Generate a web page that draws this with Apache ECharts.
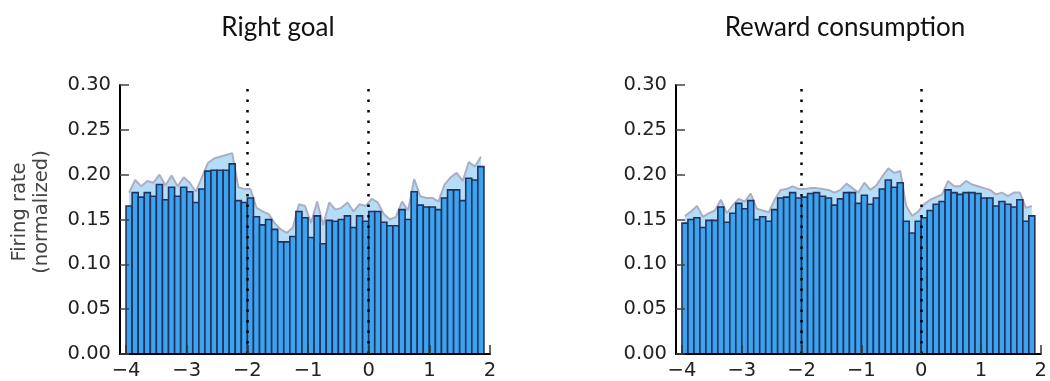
<!DOCTYPE html>
<html>
<head>
<meta charset="utf-8">
<script src="https://cdn.jsdelivr.net/npm/echarts@6/dist/echarts.min.js"></script>
<style>
html,body{margin:0;padding:0;background:#fff;}
#chart{width:1050px;height:381px;}
</style>
</head>
<body>
<div id="chart"></div>
<script>
// ---- data ----
const titles = ['Right goal', 'Reward consumption'];
const yAxisLabel = 'Firing rate\n(normalized)';
const binCenters = [
  -3.95,-3.85,-3.75,-3.65,-3.55,-3.45,-3.35,-3.25,-3.15,-3.05,
  -2.95,-2.85,-2.75,-2.65,-2.55,-2.45,-2.35,-2.25,-2.15,-2.05,
  -1.95,-1.85,-1.75,-1.65,-1.55,-1.45,-1.35,-1.25,-1.15,-1.05,
  -0.95,-0.85,-0.75,-0.65,-0.55,-0.45,-0.35,-0.25,-0.15,-0.05,
  0.05,0.15,0.25,0.35,0.45,0.55,0.65,0.75,0.85,0.95,
  1.05,1.15,1.25,1.35,1.45,1.55,1.65,1.75,1.85
];
const rightGoalRate = [
  0.165,0.180,0.175,0.180,0.176,0.189,0.172,0.186,0.176,0.186,
  0.181,0.169,0.184,0.204,0.205,0.205,0.205,0.212,0.171,0.169,
  0.174,0.153,0.144,0.150,0.139,0.125,0.125,0.131,0.159,0.152,
  0.130,0.154,0.123,0.149,0.148,0.150,0.154,0.141,0.154,0.148,
  0.159,0.159,0.147,0.143,0.143,0.161,0.150,0.181,0.166,0.164,
  0.164,0.161,0.174,0.183,0.183,0.171,0.196,0.194,0.209
];
const rightGoalUpper = [
  0.180,0.194,0.187,0.193,0.191,0.200,0.188,0.199,0.187,0.197,
  0.191,0.181,0.197,0.213,0.218,0.220,0.222,0.224,0.186,0.184,
  0.184,0.163,0.159,0.156,0.146,0.139,0.135,0.141,0.167,0.165,
  0.146,0.170,0.144,0.169,0.161,0.163,0.169,0.159,0.167,0.165,
  0.173,0.169,0.156,0.150,0.153,0.170,0.160,0.195,0.176,0.174,
  0.174,0.170,0.189,0.197,0.202,0.193,0.214,0.209,0.220
];
const rewardRate = [
  0.146,0.150,0.152,0.141,0.149,0.149,0.164,0.147,0.157,0.168,
  0.162,0.171,0.150,0.153,0.148,0.161,0.174,0.175,0.180,0.174,
  0.175,0.179,0.180,0.176,0.174,0.166,0.173,0.180,0.180,0.168,
  0.177,0.167,0.174,0.184,0.194,0.186,0.191,0.148,0.135,0.148,
  0.152,0.160,0.167,0.170,0.183,0.180,0.178,0.180,0.180,0.179,
  0.174,0.174,0.165,0.170,0.167,0.164,0.172,0.148,0.154
];
const rewardUpper = [
  0.154,0.159,0.165,0.153,0.157,0.160,0.172,0.157,0.166,0.173,
  0.170,0.179,0.162,0.160,0.158,0.172,0.183,0.184,0.187,0.184,
  0.184,0.185,0.185,0.184,0.183,0.180,0.183,0.190,0.185,0.180,
  0.191,0.183,0.188,0.198,0.207,0.202,0.204,0.165,0.154,0.159,
  0.167,0.172,0.175,0.178,0.193,0.187,0.187,0.193,0.189,0.187,
  0.185,0.183,0.178,0.180,0.176,0.180,0.180,0.163,0.165
];
const xTickValues = [-4,-3,-2,-1,0,1,2];
const xTickLabels = ['\u22124','\u22123','\u22122','\u22121','0','1','2'];
const yTickValues = [0,0.05,0.10,0.15,0.20,0.25,0.30];
const yTickLabels = ['0.00','0.05','0.10','0.15','0.20','0.25','0.30'];
const eventLines = [-2, 0];

// ---- style / layout ----
const BIN_HALF = 0.05;
const BAR_FILL = '#3ca3ee';
const BAR_EDGE = '#22325c';
const BAND_FILL = '#b6ddf7';
const BAND_EDGE = '#abafc3';
const TICK_FONT = '"DejaVu Sans", sans-serif';
const grids = [
  {left: 120, top: 85, width: 370, height: 270},
  {left: 676, top: 85, width: 368, height: 270}
];
const titlePos = [[278, 28], [845, 28]];
const yLabelPos = [31, 212];
const panels = [
  {rate: rightGoalRate, upper: rightGoalUpper},
  {rate: rewardRate, upper: rewardUpper}
];

const chart = echarts.init(document.getElementById('chart'), null, {renderer: 'canvas'});

function renderBar(params, api) {
  const c = api.value(0), v = api.value(1);
  const p0 = api.coord([c - BIN_HALF, v]);
  const p1 = api.coord([c + BIN_HALF, 0]);
  return {
    type: 'rect',
    shape: {x: p0[0], y: p0[1], width: p1[0] - p0[0], height: p1[1] - p0[1]},
    style: {fill: BAR_FILL, stroke: BAR_EDGE, lineWidth: 1.6}
  };
}

const xAxes = [], yAxes = [], series = [];
panels.forEach((p, i) => {
  xAxes.push({
    type: 'value', gridIndex: i, min: -4.1, max: 2, z: 10,
    axisLine: {show: true, onZero: false, lineStyle: {color: '#000', width: 2}},
    axisTick: {show: true, inside: true, length: 9, customValues: xTickValues,
      lineStyle: {color: '#333', width: 1.5}},
    axisLabel: {show: true, customValues: xTickValues, margin: 7,
      formatter: (v) => xTickLabels[xTickValues.indexOf(Math.round(v))],
      fontFamily: TICK_FONT, fontSize: 19.5, color: '#222'},
    splitLine: {show: false}
  });
  yAxes.push({
    type: 'value', gridIndex: i, min: 0, max: 0.3, z: 10,
    axisLine: {show: true, onZero: false, lineStyle: {color: '#000', width: 2}},
    axisTick: {show: true, inside: true, length: 9, customValues: yTickValues,
      lineStyle: {color: '#444', width: 1.5}},
    axisLabel: {show: true, customValues: yTickValues, margin: 9,
      formatter: (v) => yTickLabels[yTickValues.indexOf(Math.round(v * 100) / 100)],
      fontFamily: TICK_FONT, fontSize: 19.5, color: '#222'},
    splitLine: {show: false}
  });
  series.push({
    type: 'line', xAxisIndex: i, yAxisIndex: i, z: 1,
    data: binCenters.map((c, k) => [c, p.upper[k]]),
    symbol: 'none', silent: true,
    lineStyle: {color: BAND_EDGE, width: 2},
    areaStyle: {color: BAND_FILL, opacity: 1, origin: 'start'}
  });
  series.push({
    type: 'custom', xAxisIndex: i, yAxisIndex: i, z: 2,
    renderItem: renderBar,
    data: binCenters.map((c, k) => [c, p.rate[k]]),
    markLine: {
      silent: true, symbol: 'none', label: {show: false},
      lineStyle: {color: '#000', width: 2.5, type: [2.5, 8], cap: 'butt'},
      data: eventLines.map(x => ({xAxis: x}))
    }
  });
});

const graphics = titles.map((t, i) => ({
  type: 'text', x: titlePos[i][0], y: titlePos[i][1],
  style: {text: t, fontFamily: 'Lato', fontSize: 26, fill: '#111',
    textAlign: 'center', textVerticalAlign: 'middle'}
}));
graphics.push({
  type: 'text', x: yLabelPos[0], y: yLabelPos[1], rotation: Math.PI / 2,
  style: {text: yAxisLabel, fontFamily: TICK_FONT, fontSize: 19.5, lineHeight: 22,
    fill: '#444', textAlign: 'center', textVerticalAlign: 'middle'}
});

chart.setOption({
  animation: false,
  grid: grids,
  xAxis: xAxes,
  yAxis: yAxes,
  series: series,
  graphic: graphics
});
</script>
</body>
</html>
